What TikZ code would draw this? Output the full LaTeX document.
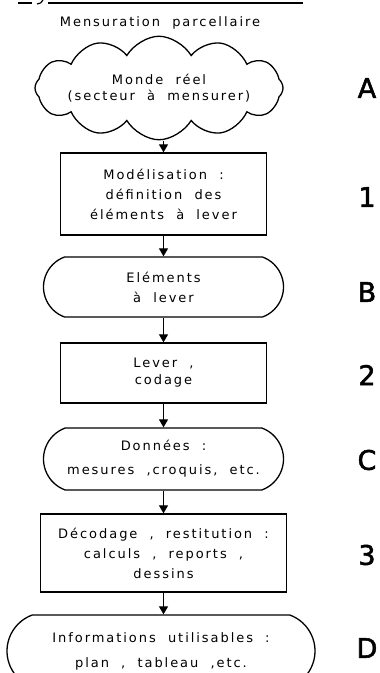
\documentclass[tikz,border=0pt]{standalone}
\usepackage{fontspec}
\setmainfont{DejaVu Sans}
\newfontfamily\lf{DejaVu Sans}[LetterSpace=15,WordSpace=2]
\newfontfamily\bigf{DejaVu Sans}[FakeBold=2]
\usetikzlibrary{shapes.symbols,shapes.misc,arrows.meta}
\begin{document}
\begin{tikzpicture}[x=1pt,y=-1pt,
  txt/.style={font={\lf\fontsize{13}{20}\selectfont}, align=center, inner sep=0pt},
  procbox/.style={txt, draw, line width=1.3pt, rectangle},
  termbox/.style={txt, draw, line width=1.3pt, rounded rectangle, rounded rectangle arc length=140},
  lbl/.style={font={\bigf\fontsize{27}{30}\selectfont}, inner sep=0pt},
  arr/.style={line width=1.1pt, -{Triangle[length=8pt,width=9pt]}}]
\useasboundingbox (0,0) rectangle (380,673);
\clip (0,0) rectangle (380,673);
% truncated heading rule
\draw[line width=1.2pt] (18,3) -- (32,3);
\draw[line width=1.2pt] (37,4) .. controls (41,3) .. (43,0);
\draw[line width=1.2pt] (48,3) -- (303,3);
\node[txt] (title) at (160,23) {Mensuration parcellaire};
% nodes
\begin{scope}[shift={(159,88)}, yscale=1.15, transform shape]
\node[draw, line width=1.3pt, cloud, cloud puffs=12, cloud puff arc=110, cloud ignores aspect,
      inner sep=0pt, minimum width=248pt, minimum height=90pt] (cA) at (0,0) {};
\end{scope}
\node[txt, font={\lf\fontsize{13}{16}\selectfont}] (cAt) at (cA.center) {Monde réel\\(secteur à mensurer)};
\node[procbox, minimum width=206pt, minimum height=82pt] (r1) at (163.5,194)
      {Modélisation :\\définition des\\éléments à lever};
\node[termbox, minimum width=240pt, minimum height=60pt] (tB) at (163.5,287)
      {Eléments\\à lever};
\node[procbox, minimum width=206pt, minimum height=60pt, font={\lf\fontsize{13}{17}\selectfont}] (r2) at (163.5,373)
      {Lever ,\\codage};
\node[termbox, minimum width=240pt, minimum height=62pt, font={\lf\fontsize{13}{24}\selectfont}] (tC) at (163.5,459)
      {Données :\\mesures ,croquis, etc.};
\node[procbox, minimum width=246pt, minimum height=78pt] (r3) at (163.5,553)
      {Décodage , restitution :\\calculs , reports ,\\dessins};
\node[termbox, minimum width=308pt, minimum height=72pt, font={\lf\fontsize{13}{25}\selectfont}] (tD) at (161,651)
      {Informations utilisables :\\plan , tableau ,etc.};
% side labels
\node[lbl] (lA) at (367,88) {A};
\node[lbl] (l1) at (367,197) {1};
\node[lbl] (lB) at (367,292) {B};
\node[lbl] (l2) at (367,375) {2};
\node[lbl] (lC) at (367,460) {C};
\node[lbl] (l3) at (367,555) {3};
\node[lbl] (lD) at (367,648) {D};
% connectors
\draw[arr] (r1.north |- cA.south) -- (r1.north);
\draw[arr] (r1.south) -- (tB.north);
\draw[arr] (tB.south) -- (r2.north);
\draw[arr] (r2.south) -- (tC.north);
\draw[arr] (tC.south) -- (r3.north);
\draw[arr] (r3.south) -- (tD.north -| r3.south);
\end{tikzpicture}
\end{document}
